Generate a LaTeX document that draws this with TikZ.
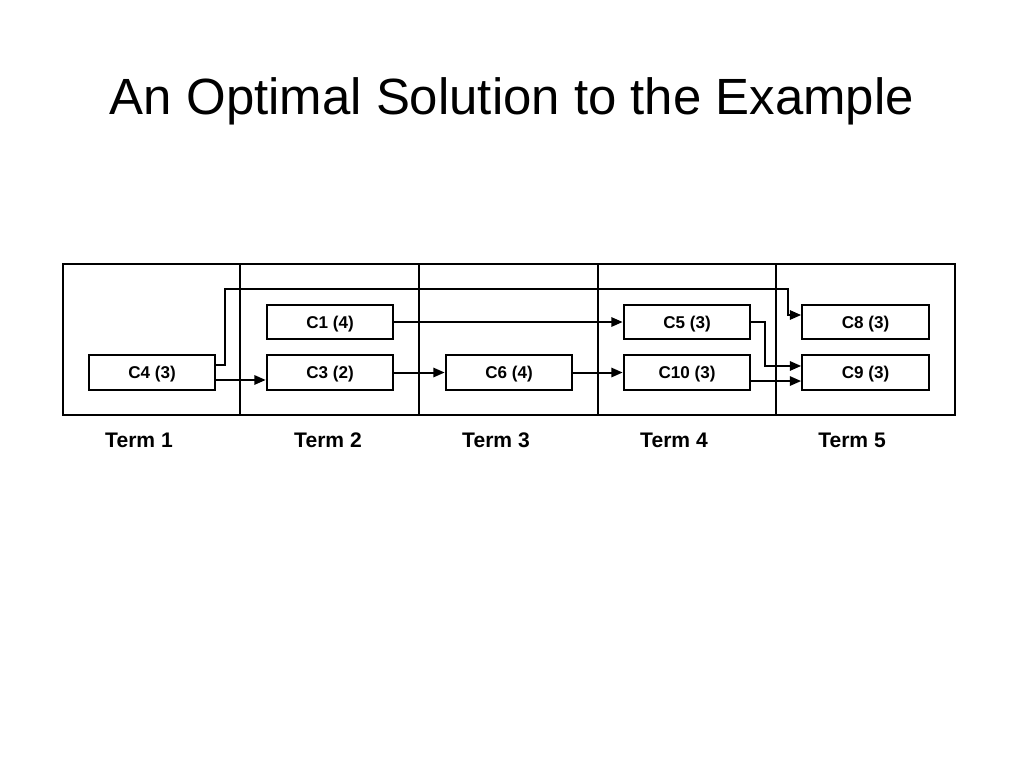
\documentclass[tikz,border=0pt]{standalone}
\usepackage{fontspec}
\setmainfont{Liberation Sans}
\usetikzlibrary{arrows.meta}
\tikzset{
    course/.style={draw,line width=1.5pt,minimum width=95pt,minimum height=26pt,inner sep=0pt,
        text height=9.2pt,text depth=0pt,font=\bfseries\fontsize{12.8}{14}\selectfont},
    link/.style={line width=1.5pt,-{Triangle[length=8.5pt,width=7pt]}},
    termlabel/.style={font=\bfseries\fontsize{15.8}{18}\selectfont}
}
\begin{document}
\begin{tikzpicture}[x=0.75pt,y=-0.75pt]
    \useasboundingbox[fill=white] (0,0) rectangle (1024,768);
    \node[font=\fontsize{38.2}{44}\selectfont] (title) at (512,101) {An Optimal Solution to the Example};
    % terms
    \draw[line width=1pt] (63,264) rectangle (955,415);
    \foreach \x in {240,419,598,776}
        \draw[line width=1pt] (\x,264) -- (\x,415);
    \foreach \x/\n in {139/1,328/2,496/3,674/4,852/5}
        \node[termlabel] (term\n) at (\x,440) {Term \n};
    % courses
    \node[course] (C4) at (152,372.5) {C4 (3)};
    \node[course] (C1) at (330,322) {C1 (4)};
    \node[course] (C3) at (330,372.5) {C3 (2)};
    \node[course] (C6) at (509,372.5) {C6 (4)};
    \node[course] (C5) at (687,322) {C5 (3)};
    \node[course] (C10) at (687,372.5) {C10 (3)};
    \node[course] (C8) at (865.5,322) {C8 (3)};
    \node[course] (C9) at (865.5,372.5) {C9 (3)};
    % prerequisites
    \draw[link] ([yshift=5.6pt]C4.east) -- ++(9,0) |- (788,289) |- ([yshift=5.25pt]C8.west);
    \draw[link] ([yshift=-5.6pt]C4.east) -- ([yshift=-5.6pt]C3.west);
    \draw[link] (C1.east) -- (C5.west);
    \draw[link] (C3.east) -- (C6.west);
    \draw[link] (C6.east) -- (C10.west);
    \draw[link] (C5.east) -- ++(14,0) |- ([yshift=4.9pt]C9.west);
    \draw[link] ([yshift=-6.4pt]C10.east) -- ([yshift=-6.4pt]C9.west);
\end{tikzpicture}
\end{document}
